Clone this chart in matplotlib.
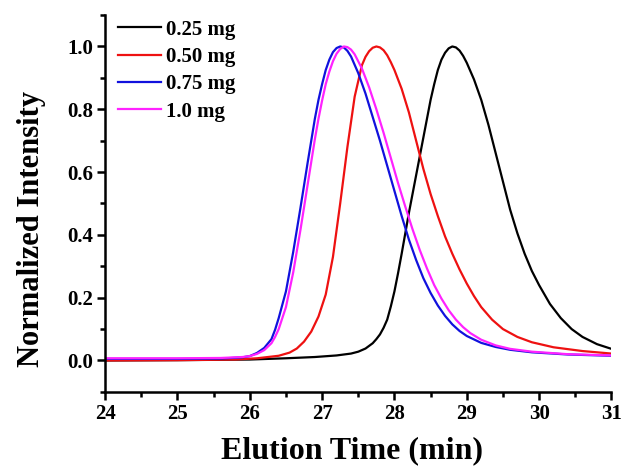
"""
Normalized GPC traces for different sample loadings.
Run: python plot.py  -> out.png
"""

import matplotlib.pyplot as plt
from matplotlib.ticker import MultipleLocator

# --- data (elution time in min, normalized intensity) ---
t_025 = [24.0, 25.0, 26.0, 26.5, 26.9, 27.2, 27.4, 27.5, 27.6, 27.7, 27.75, 27.8,
         27.85, 27.9, 27.95, 28.0, 28.05, 28.1, 28.2, 28.3, 28.4, 28.5, 28.55, 28.6,
         28.65, 28.7, 28.75, 28.8, 28.85, 28.9, 28.95, 29.0, 29.1, 29.2, 29.3, 29.4,
         29.5, 29.6, 29.7, 29.8, 29.9, 30.0, 30.15, 30.3, 30.45, 30.6, 30.8, 31.0]
y_025 = [0.0, 0.001, 0.003, 0.007, 0.011, 0.016, 0.022, 0.028, 0.038, 0.055, 0.068, 0.083,
         0.104, 0.13, 0.172, 0.22, 0.278, 0.34, 0.47, 0.59, 0.71, 0.83, 0.88, 0.925,
         0.958, 0.98, 0.994, 1.0, 0.997, 0.987, 0.97, 0.948, 0.895, 0.83, 0.75, 0.66,
         0.57, 0.48, 0.405, 0.34, 0.285, 0.24, 0.18, 0.135, 0.1, 0.075, 0.052, 0.037]

t_050 = [24.0, 25.0, 25.8, 26.1, 26.4, 26.55, 26.65, 26.75, 26.85, 26.95, 27.05, 27.15,
         27.25, 27.35, 27.45, 27.55, 27.6, 27.65, 27.7, 27.75, 27.8, 27.85, 27.9, 27.95,
         28.0, 28.1, 28.2, 28.3, 28.4, 28.5, 28.6, 28.7, 28.8, 28.9, 29.0, 29.1,
         29.2, 29.35, 29.5, 29.7, 29.9, 30.2, 30.6, 31.0]
y_050 = [0.0, 0.001, 0.003, 0.007, 0.015, 0.025, 0.038, 0.06, 0.092, 0.14, 0.21, 0.33,
         0.5, 0.68, 0.84, 0.94, 0.967, 0.985, 0.996, 1.0, 0.997, 0.988, 0.972, 0.95,
         0.925, 0.865, 0.79, 0.7, 0.61, 0.53, 0.46, 0.395, 0.34, 0.29, 0.245, 0.205,
         0.17, 0.13, 0.1, 0.075, 0.058, 0.042, 0.03, 0.022]

t_075 = [24.0, 25.0, 25.6, 25.9, 26.0, 26.1, 26.2, 26.3, 26.35, 26.4, 26.5, 26.6, 26.7,
         26.8, 26.9, 26.95, 27.0, 27.05, 27.1, 27.15, 27.2, 27.25, 27.3, 27.35, 27.4,
         27.5, 27.6, 27.7, 27.8, 27.9, 28.0, 28.1, 28.2, 28.3, 28.4, 28.5, 28.6,
         28.7, 28.8, 28.9, 29.0, 29.2, 29.4, 29.6, 29.9, 30.4, 31.0]
y_075 = [0.005, 0.005, 0.006, 0.01, 0.014, 0.024, 0.04, 0.068, 0.098, 0.135, 0.22, 0.345, 0.485,
         0.63, 0.77, 0.83, 0.88, 0.925, 0.958, 0.982, 0.995, 1.0, 0.997, 0.986, 0.968,
         0.915, 0.85, 0.775, 0.7, 0.62, 0.54, 0.46, 0.385, 0.32, 0.262, 0.215, 0.175,
         0.142, 0.115, 0.094, 0.078, 0.056, 0.043, 0.034, 0.026, 0.019, 0.015]

t_100 = [24.0, 25.0, 25.6, 25.9, 26.0, 26.1, 26.2, 26.3, 26.35, 26.4, 26.5, 26.6, 26.7,
         26.8, 26.9, 26.95, 27.0, 27.05, 27.1, 27.15, 27.2, 27.25, 27.3, 27.35, 27.4,
         27.45, 27.55, 27.65, 27.75, 27.85, 27.95, 28.05, 28.15, 28.25, 28.35, 28.45, 28.55,
         28.65, 28.75, 28.85, 28.95, 29.05, 29.2, 29.4, 29.6, 29.9, 30.4, 31.0]
y_100 = [0.007, 0.007, 0.008, 0.011, 0.014, 0.021, 0.033, 0.055, 0.075, 0.1, 0.17, 0.28, 0.415,
         0.56, 0.705, 0.77, 0.828, 0.88, 0.92, 0.953, 0.977, 0.992, 1.0, 0.998, 0.99,
         0.975, 0.93, 0.87, 0.8, 0.725, 0.645, 0.565, 0.49, 0.418, 0.352, 0.293, 0.24,
         0.197, 0.16, 0.13, 0.106, 0.087, 0.066, 0.048, 0.037, 0.028, 0.02, 0.016]

labels = ["0.25 mg", "0.50 mg", "0.75 mg", "1.0 mg"]
colors = ["#000000", "#ee1111", "#1111dd", "#ff22ff"]
yticks = [0.0, 0.2, 0.4, 0.6, 0.8, 1.0]


def main():
    plt.rcParams["font.family"] = ["Liberation Serif", "DejaVu Serif"]
    plt.rcParams["font.weight"] = "bold"

    fig = plt.figure(figsize=(6.22, 4.71), dpi=100)
    ax = fig.add_axes([0.169, 0.168, 0.814, 0.800])

    series = [(t_025, y_025), (t_050, y_050), (t_075, y_075), (t_100, y_100)]
    for (t, y), lab, c in zip(series, labels, colors):
        ax.plot(t, y, color=c, lw=1.6, label=lab, solid_joinstyle="round")

    ax.set_xlim(24, 31)
    ax.set_ylim(-0.1, 1.1)
    ax.xaxis.set_major_locator(MultipleLocator(1))
    ax.xaxis.set_minor_locator(MultipleLocator(0.5))
    ax.yaxis.set_minor_locator(MultipleLocator(0.1))
    ax.set_yticks(yticks)
    ax.set_yticklabels([f"{v:.1f}" for v in yticks])

    for side in ["top", "right"]:
        ax.spines[side].set_visible(False)
    for side in ["left", "bottom"]:
        ax.spines[side].set_linewidth(1.8)
    ax.tick_params(which="major", direction="out", length=5.5, width=1.8, labelsize=15, pad=3)
    ax.tick_params(which="minor", direction="out", length=3.4, width=1.8)

    ax.set_xlabel("Elution Time (min)", fontsize=23, fontweight="bold")
    ax.set_ylabel("Normalized Intensity", fontsize=22, fontweight="bold")
    ax.xaxis.set_label_coords(0.487, -0.119)
    ax.yaxis.set_label_coords(-0.116, 0.432)

    ax.legend(loc="upper left", bbox_to_anchor=(0.026, 0.9875), frameon=False,
              fontsize=15, handlelength=2.07, handletextpad=0.2,
              labelspacing=0.35, borderpad=0, borderaxespad=0)

    fig.savefig("out.png", dpi=100)
    plt.close(fig)


if __name__ == "__main__":
    main()
